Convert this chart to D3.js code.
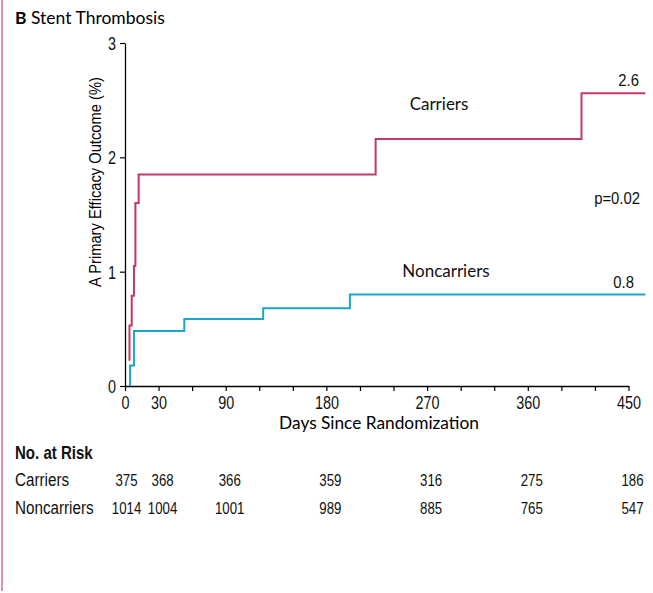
<!DOCTYPE html>
<html>
<head>
<meta charset="utf-8">
<script src="https://cdn.jsdelivr.net/npm/d3@7"></script>
<style>
  body { margin: 0; background: #fff; }
  svg { display: block; }
</style>
</head>
<body>
<div id="chart"></div>
<script>
// Kaplan-Meier style step data (day of step, cumulative % after step)
const carrier_days   = [4, 4, 6, 8, 9.3, 12.2, 224, 408, 465];
const carrier_values = [0.22, 0.53, 0.79, 1.05, 1.6, 1.85, 2.16, 2.56, 2.56];
const noncarrier_days   = [4.5, 4.5, 8, 53, 123.5, 201, 465];
const noncarrier_values = [0, 0.18, 0.48, 0.585, 0.68, 0.80, 0.80];

const x_ticks = d3.range( 0, 451, 30 );
const x_tick_labels = [ 0, 30, 90, 180, 270, 360, 450 ];
const y_ticks = [ 0, 1, 2, 3 ];

const risk_days = [ 0, 30, 90, 180, 270, 360, 450 ];
const risk_carriers = [ 375, 368, 366, 359, 316, 275, 186 ];
const risk_noncarriers = [ 1014, 1004, 1001, 989, 885, 765, 547 ];

const width = 653, height = 593;
const margin = { left: 125, top: 43, right: 25, bottom: 207 };
const plot_width = 503.5;
const plot_height = height - margin.top - margin.bottom;

const red = '#c23a62', blue = '#1ba8c8';
const sans = '"Liberation Sans", Arial, sans-serif';
const humanist = 'Lato, "Open Sans", sans-serif';

const svg = d3.select( '#chart' ).append( 'svg' )
  .attr( 'width', width )
  .attr( 'height', height );

// Text drawn squeezed horizontally to mimic the condensed face of the original.
function condensed_text( parent, x, y, txt, size, squeeze, anchor ){
  return parent.append( 'text' )
    .attr( 'transform', 'translate(' + x + ',' + y + ') scale(' + squeeze + ',1)' )
    .attr( 'text-anchor', anchor || 'start' )
    .style( 'font-family', sans ).style( 'font-size', size + 'px' )
    .attr( 'fill', '#111' )
    .text( txt );
}

// pink rule at the left edge
svg.append( 'rect' )
  .attr( 'x', 1 ).attr( 'y', 0 )
  .attr( 'width', 2 ).attr( 'height', 591 )
  .attr( 'fill', '#e28cab' );

// panel title
const title = svg.append( 'text' )
  .attr( 'x', 15 ).attr( 'y', 24 )
  .style( 'font-family', humanist ).style( 'font-size', '17.5px' );
title.append( 'tspan' ).style( 'font-weight', 'bold' ).text( 'B' );
title.append( 'tspan' ).text( ' Stent Thrombosis' );

const g = svg.append( 'g' )
  .attr( 'transform', 'translate(' + margin.left + ',' + margin.top + ')' );

const x_scale = d3.scaleLinear().domain( [0, 450] ).range( [0, plot_width] );
const y_scale = d3.scaleLinear().domain( [0, 3] ).range( [plot_height, 0] );

// x axis
const x_axis = g.append( 'g' )
  .attr( 'transform', 'translate(0,' + plot_height + ')' )
  .call( d3.axisBottom( x_scale ).tickValues( x_ticks ).tickSize( 5 ).tickSizeOuter( 0 )
    .tickFormat( function( d ){ return x_tick_labels.indexOf( d ) >= 0 ? d : ''; } ) );
x_axis.select( '.domain' ).attr( 'stroke-width', 1.3 );
x_axis.selectAll( '.tick line' ).attr( 'stroke-width', 1.2 );
x_axis.selectAll( 'text' )
  .attr( 'dy', null ).attr( 'y', 23 )
  .attr( 'transform', 'scale(0.8,1)' )
  .style( 'font-family', sans ).style( 'font-size', '18px' ).attr( 'fill', '#111' );

// y axis
const y_axis = g.append( 'g' )
  .call( d3.axisLeft( y_scale ).tickValues( y_ticks ).tickSize( 5 ).tickSizeOuter( 0 )
    .tickFormat( d3.format( 'd' ) ) );
y_axis.select( '.domain' ).attr( 'stroke-width', 1.3 );
y_axis.selectAll( '.tick line' ).attr( 'stroke-width', 1.2 );
y_axis.selectAll( 'text' )
  .attr( 'x', -9 / 0.8 ).attr( 'dy', '0.36em' )
  .attr( 'transform', 'scale(0.8,1)' )
  .style( 'font-family', sans ).style( 'font-size', '18px' ).attr( 'fill', '#111' );

// axis titles
svg.append( 'text' )
  .attr( 'x', 379 ).attr( 'y', 429 )
  .attr( 'text-anchor', 'middle' )
  .style( 'font-family', humanist ).style( 'font-size', '17.3px' )
  .text( 'Days Since Randomization' );

svg.append( 'text' )
  .attr( 'transform', 'translate(101,182) rotate(-90) scale(0.92,1)' )
  .attr( 'text-anchor', 'middle' )
  .style( 'font-family', sans ).style( 'font-size', '16px' )
  .text( 'A Primary Efficacy Outcome (%)' );

// step curves
const step_line = d3.line()
  .x( function( d ){ return x_scale( d[0] ); } )
  .y( function( d ){ return y_scale( d[1] ); } )
  .curve( d3.curveStepAfter );

g.append( 'path' )
  .datum( d3.zip( carrier_days, carrier_values ) )
  .attr( 'd', step_line )
  .attr( 'fill', 'none' ).attr( 'stroke', red ).attr( 'stroke-width', 2 );

g.append( 'path' )
  .datum( d3.zip( noncarrier_days, noncarrier_values ) )
  .attr( 'd', step_line )
  .attr( 'fill', 'none' ).attr( 'stroke', blue ).attr( 'stroke-width', 2 );

// curve labels
const labels = [
  { text: 'Carriers', x: 439, y: 110, anchor: 'middle', font: humanist, size: 17 },
  { text: 'Noncarriers', x: 446, y: 277, anchor: 'middle', font: humanist, size: 17 }
];
svg.selectAll( 'text.curve_label' )
  .data( labels )
  .enter().append( 'text' )
    .attr( 'class', 'curve_label' )
    .attr( 'x', function( d ){ return d.x; } )
    .attr( 'y', function( d ){ return d.y; } )
    .attr( 'text-anchor', function( d ){ return d.anchor; } )
    .style( 'font-family', function( d ){ return d.font; } )
    .style( 'font-size', function( d ){ return d.size + 'px'; } )
    .attr( 'fill', '#111' )
    .text( function( d ){ return d.text; } );

condensed_text( svg, 639, 86, '2.6', 16.5, 0.9, 'end' );
condensed_text( svg, 640, 204, 'p=0.02', 16.5, 0.9, 'end' );
condensed_text( svg, 634, 288, '0.8', 16.5, 0.9, 'end' );

// number at risk table
condensed_text( svg, 15, 459, 'No. at Risk', 17.5, 0.86 ).style( 'font-weight', 'bold' );

const rows = [
  { name: 'Carriers', values: risk_carriers, y: 486 },
  { name: 'Noncarriers', values: risk_noncarriers, y: 514 }
];
rows.forEach( function( row ){
  condensed_text( svg, 15, row.y, row.name, 17.5, 0.87 );
  row.values.forEach( function( v, i ){
    condensed_text( svg, margin.left + x_scale( risk_days[i] ) + ( i === 0 ? 1.5 : 4 ), row.y, v, 17, 0.78, 'middle' );
  } );
} );
</script>
</body>
</html>
